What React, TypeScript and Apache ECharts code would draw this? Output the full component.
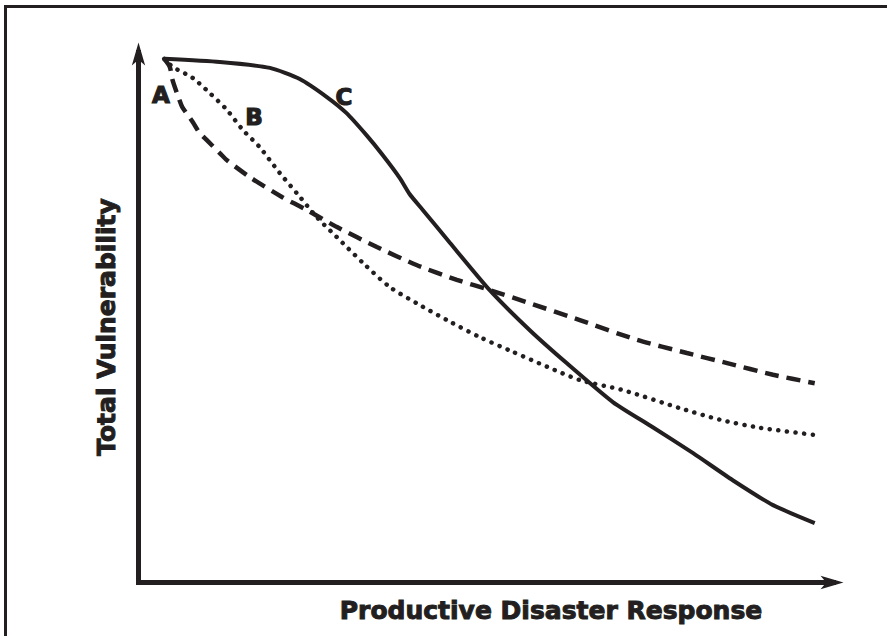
import React, { useEffect, useRef } from "react";
import * as echarts from "echarts";

// Curve A (dashed): [x, y] in axis units (0..100)
const curveA: number[][] = [
  [3.7, 98.8], [4.5, 97.3], [4.9, 94.8], [5.9, 91.0], [6.3, 89.7], [7.8, 86.9],
  [8.8, 84.8], [9.8, 83.5], [11.7, 81.0], [12.7, 79.7], [16.0, 76.5], [20.7, 72.7],
  [24.2, 70.3], [28.5, 67.1], [34.3, 63.3], [40.0, 59.9], [45.8, 57.1], [50.5, 55.2],
  [56.3, 52.7], [63.5, 49.5], [71.7, 45.8], [78.9, 43.3], [84.7, 41.4], [91.3, 39.2],
  [97.3, 37.6],
];

// Curve B (dotted)
const curveB: number[][] = [
  [3.7, 98.8], [4.9, 97.3], [7.8, 95.2], [10.2, 92.4], [12.7, 89.2], [15.0, 85.4],
  [17.4, 82.2], [20.3, 77.3], [23.2, 72.8], [25.6, 69.0], [28.5, 65.2], [32.3, 60.3],
  [36.1, 55.8], [40.0, 52.7], [44.4, 49.5], [49.1, 46.3], [53.9, 43.5], [58.8, 40.7],
  [63.5, 38.2], [69.7, 36.3], [77.9, 32.9], [83.7, 30.7], [89.4, 29.2], [97.6, 27.8],
];

// Curve C (solid)
const curveC: number[][] = [
  [3.7, 98.8], [11.7, 98.2], [18.9, 97.1], [23.2, 95.0], [27.1, 91.6], [29.9, 88.6],
  [32.8, 84.4], [35.1, 80.7], [37.6, 76.3], [39.0, 73.3], [40.9, 70.3], [44.8, 64.1],
  [50.5, 55.2], [56.3, 47.6], [61.6, 41.4], [68.3, 34.0], [74.0, 29.3], [79.8, 24.4],
  [85.5, 19.3], [91.3, 14.6], [97.3, 11.2],
];

const curveLabels = ["A", "B", "C"];
const xTitle = "Productive Disaster Response";
const yTitle = "Total Vulnerability";

const INK = "#231f20";
const FONT = "DejaVu Sans";

export default function App() {
  const ref = useRef<HTMLDivElement>(null);

  useEffect(() => {
    if (!ref.current) return;
    const chart = echarts.init(ref.current, undefined, { renderer: "svg" });

    const axisCommon = {
      type: "value" as const,
      min: 0,
      max: 100,
      axisLine: {
        show: true,
        symbol: ["none", "arrow"],
        symbolSize: [10, 23],
        symbolOffset: [0, 10],
        lineStyle: { color: INK, width: 5, cap: "square" },
      },
      axisTick: { show: false },
      axisLabel: { show: false },
      splitLine: { show: false },
    };

    const labelPos = [
      [161, 95],
      [254, 117],
      [344, 97],
    ];

    chart.setOption({
      animation: false,
      backgroundColor: "#ffffff",
      grid: { left: 138.5, right: 53.5, top: 52.5, bottom: 53.5 },
      xAxis: axisCommon,
      yAxis: axisCommon,
      series: [
        {
          type: "line",
          data: curveA,
          symbol: "none",
          smooth: 0.25,
          lineStyle: { color: INK, width: 4.5, type: [14, 8] },
          z: 3,
        },
        {
          type: "line",
          data: curveB,
          symbol: "none",
          smooth: 0.25,
          lineStyle: { color: INK, width: 4.5, type: [0.1, 8.5], cap: "round" },
          z: 3,
        },
        {
          type: "line",
          data: curveC,
          symbol: "none",
          smooth: 0.2,
          lineStyle: { color: INK, width: 4 },
          z: 3,
        },
      ],
      graphic: [
        {
          type: "line",
          z: 50,
          shape: { x1: 4, y1: 6.5, x2: 887, y2: 6.5 },
          style: { stroke: INK, lineWidth: 3 },
        },
        {
          type: "line",
          z: 50,
          shape: { x1: 5.5, y1: 5, x2: 5.5, y2: 636 },
          style: { stroke: INK, lineWidth: 3 },
        },
        ...curveLabels.map((t, i) => ({
          type: "text",
          x: labelPos[i][0],
          y: labelPos[i][1],
          style: {
            text: t,
            fill: INK,
            stroke: INK,
            lineWidth: 1.2,
            font: `bold 23px "${FONT}"`,
            textAlign: "center",
            textVerticalAlign: "middle",
          },
        })),
        {
          type: "text",
          x: 551,
          y: 610,
          style: {
            text: xTitle,
            fill: INK,
            stroke: INK,
            lineWidth: 1,
            font: `bold 25px "${FONT}"`,
            textAlign: "center",
            textVerticalAlign: "middle",
          },
        },
        {
          type: "text",
          x: 106,
          y: 327,
          rotation: Math.PI / 2,
          style: {
            text: yTitle,
            fill: INK,
            stroke: INK,
            lineWidth: 1,
            font: `bold 25px "${FONT}"`,
            textAlign: "center",
            textVerticalAlign: "middle",
          },
        },
      ],
    });

    return () => chart.dispose();
  }, []);

  return (
    <div
      ref={ref}
      style={{ position: "absolute", left: 0, top: 0, width: 887, height: 636 }}
    />
  );
}
